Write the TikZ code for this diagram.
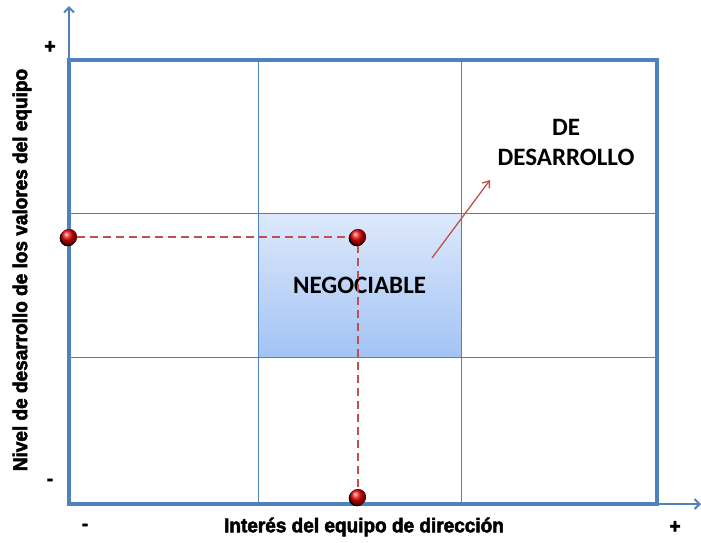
\documentclass[tikz,border=0pt]{standalone}
\usepackage{fontspec}
\setmainfont{Carlito}
\newfontfamily\axfont[FakeBold=2.5,FakeStretch=0.95]{Liberation Sans}
\usetikzlibrary{arrows.meta,shadows}

\definecolor{gridblue}{HTML}{4F81BD}
\definecolor{dotred}{HTML}{C0504D}
\definecolor{negtop}{HTML}{DDE9FB}
\definecolor{negbot}{HTML}{A3C3F5}

\tikzset{
  frame/.style={draw=gridblue, line width=3.5pt},
  gridline/.style={draw=gridblue, line width=0.9pt},
  axis/.style={draw=gridblue, line width=2pt, -{Straight Barb[length=5pt,width=10pt]}},
  guide/.style={draw=dotred, line width=1.5pt, dash pattern=on 8pt off 5pt},
  pointer/.style={draw=dotred, line width=1.3pt, -{Straight Barb[length=6pt,width=9pt]}},
  dot/.style={circle, ball color=red!90!black, minimum size=16pt, inner sep=0pt,
    drop shadow={shadow xshift=-1.2pt, shadow yshift=-1.2pt, opacity=1, fill=black}},
  axlabel/.style={font=\axfont\bfseries\fontsize{20}{20}\selectfont},
  zone/.style={font=\bfseries\fontsize{25}{30}\selectfont, align=center},
}

\def\xA{69}  \def\xB{258} \def\xC{461} \def\xD{657}
\def\yA{60}  \def\yB{213} \def\yC{357} \def\yD{504}

\begin{document}
\begin{tikzpicture}[x=1pt,y=-1pt]
    \useasboundingbox (0,0) rectangle (701,542);

    %% shaded middle cell
    \node[minimum width=203pt, minimum height=144pt, inner sep=0pt,
          top color=negtop, bottom color=negbot, zone] (Neg) at (359.5,285) {NEGOCIABLE};

    %% grid
    \draw[gridline] (\xB,\yA) -- (\xB,\yD);
    \draw[gridline] (\xC,\yA) -- (\xC,\yD);
    \draw[gridline] (\xA,\yB) -- (\xD,\yB);
    \draw[gridline] (\xA,\yC) -- (\xD,\yC);
    \draw[frame] (\xA,\yA) rectangle (\xD,\yD);

    %% axes
    \draw[axis] (\xA,\yD) -- (\xA,6);
    \draw[axis] (\xA,\yD) -- (701,\yD);

    %%   (label)  (x, y)
    \node[dot] (PY) at (\xA,237) {};
    \node[dot] (PC) at (358,237) {};
    \node[dot] (PX) at (358,497) {};

    \path[guide] (PY) edge (PC);
    \path[guide] (PC) edge (PX);
    \node[dot] at (PY) {};
    \node[dot] at (PC) {};
    \node[dot] at (PX) {};

    %% quadrant label and arrow
    \node[zone] (Des) at (566,142) {DE\\DESARROLLO};
    \coordinate (ArrS) at (432,258);
    \coordinate (ArrE) at (490,180);
    \draw[pointer] (ArrS) -- (ArrE);

    %% axis labels
    \node[axlabel, rotate=90] (YLab) at (22,270) {Nivel de desarrollo de los valores del equipo};
    \node[axlabel] (XLab) at (364,527) {Interés del equipo de dirección};
    \node[axlabel] (YPlus)  at (50,47)  {+};
    \node[axlabel] (YMinus) at (50,482) {-};
    \node[axlabel] (XMinus) at (85,527) {-};
    \node[axlabel] (XPlus)  at (675,527) {+};

\end{tikzpicture}
\end{document}
